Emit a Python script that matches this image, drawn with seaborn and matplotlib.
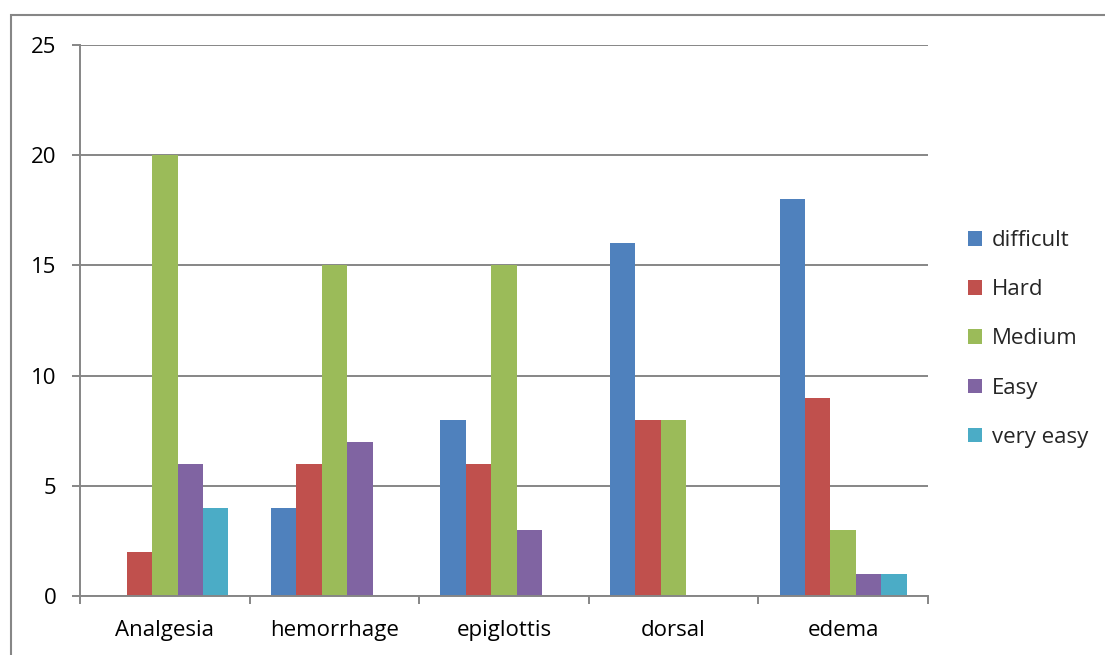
import matplotlib
matplotlib.use("Agg")
import matplotlib.pyplot as plt
import seaborn as sns
import pandas as pd
from matplotlib.patches import Rectangle
from matplotlib.ticker import FixedLocator

categories = ["Analgesia", "hemorrhage", "epiglottis", "dorsal", "edema"]
series = ["difficult", "Hard", "Medium", "Easy", "very easy"]
difficult = [0, 4, 8, 16, 18]
hard = [2, 6, 6, 8, 9]
medium = [20, 15, 15, 8, 3]
easy = [6, 7, 3, 0, 1]
very_easy = [4, 0, 0, 0, 1]
colors = ["#4F81BD", "#C0504D", "#9BBB59", "#8064A2", "#4BACC6"]
y_ticks = [0, 5, 10, 15, 20, 25]

rows = []
for name, vals in zip(series, [difficult, hard, medium, easy, very_easy]):
    for cat, v in zip(categories, vals):
        rows.append({"category": cat, "level": name, "count": v})
df = pd.DataFrame(rows)

sns.set_theme(style="white")
plt.rcParams["font.family"] = ["Open Sans", "DejaVu Sans"]
FS = 16

fig = plt.figure(figsize=(11.05, 6.55), dpi=100)
ax = fig.add_axes([80 / 1105, 59 / 655, 848 / 1105, 551 / 655])

sns.barplot(data=df, x="category", y="count", hue="level",
            order=categories, hue_order=series, palette=colors,
            width=0.75, linewidth=0, saturation=1, ax=ax)

grey = "#868686"
ax.set_xlim(-0.5, len(categories) - 0.5)
ax.set_ylim(0, 25)
ax.set_yticks(y_ticks)
ax.yaxis.grid(True, color=grey, linewidth=1.4)
ax.set_axisbelow(True)
ax.set_xlabel("")
ax.set_ylabel("")
for side in ["top", "right"]:
    ax.spines[side].set_visible(False)
for side in ["left", "bottom"]:
    ax.spines[side].set_color(grey)
    ax.spines[side].set_linewidth(1.4)

ax.xaxis.set_minor_locator(FixedLocator([i - 0.5 for i in range(len(categories) + 1)]))
ax.tick_params(axis="x", which="major", bottom=True, length=0, pad=17,
               labelsize=FS, labelcolor="black")
ax.tick_params(axis="x", which="minor", bottom=True, length=6, width=1.4,
               color=grey, direction="out")
ax.tick_params(axis="y", left=True, length=6, width=1.4, color=grey, direction="out",
               pad=11, labelsize=FS, labelcolor="black")

handles, labels = ax.get_legend_handles_labels()
ax.legend(handles, labels, loc="center left", bbox_to_anchor=(968 / 1105, 1 - 339 / 655),
          bbox_transform=fig.transFigure, frameon=False, fontsize=FS,
          handlelength=0.63, handleheight=0.63, handletextpad=0.45,
          labelspacing=1.27, borderaxespad=0, borderpad=0)

fig.patches.append(Rectangle((11 / 1105, -0.1), 1.2, 1 - 15 / 655 + 0.1,
                             transform=fig.transFigure, fill=False,
                             edgecolor=grey, linewidth=1.5))

fig.savefig("out.png", dpi=100)
